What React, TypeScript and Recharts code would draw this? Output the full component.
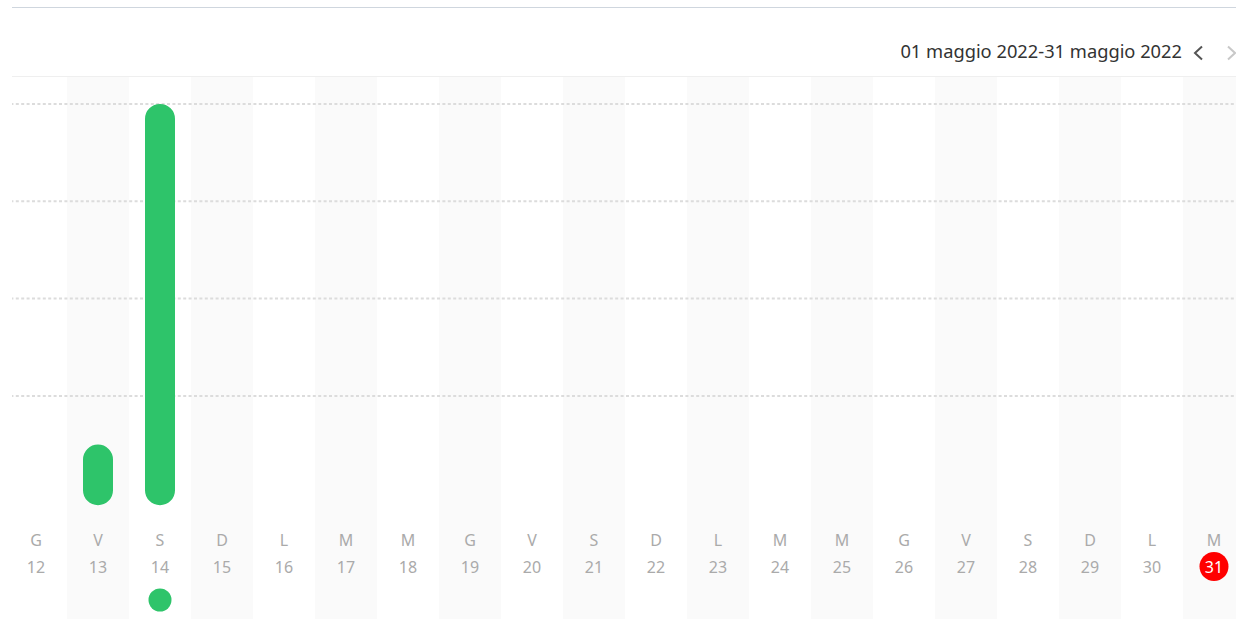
// Attività giornaliera di maggio 2022: barre a capsula per giorno, colonne alternate.
import { Bar, BarChart, ReferenceArea, ReferenceLine, Rectangle, XAxis, YAxis } from "recharts";

const DAYS = [12, 13, 14, 15, 16, 17, 18, 19, 20, 21, 22, 23, 24, 25, 26, 27, 28, 29, 30, 31];
const WEEKDAYS = ["G", "V", "S", "D", "L", "M", "M", "G", "V", "S", "D", "L", "M", "M", "G", "V", "S", "D", "L", "M"];
const VALUES = [0, 0.5, 4, 0, 0, 0, 0, 0, 0, 0, 0, 0, 0, 0, 0, 0, 0, 0, 0, 0];
const GRID_VALUES = [1, 2, 3, 4];
const Y_DOMAIN: [number, number] = [-1.292, 4.277];
const SHADED_DAYS = DAYS.filter((d) => d % 2 === 1);
const SELECTED_DAY = 14;
const TODAY = 31;
const RANGE_LABEL = "01 maggio 2022-31 maggio 2022";

const GREEN = "#2ec46a";
const FONT = '"Noto Sans", "Open Sans", sans-serif';

const data = DAYS.map((day, i) => ({ day, weekday: WEEKDAYS[i], value: VALUES[i] }));

function CapsuleBar(props: any) {
  const { x, y, width, height } = props;
  if (!height || height <= 0) return null;
  return <Rectangle x={x} y={y} width={width} height={height + 12} radius={width / 2} fill={GREEN} />;
}

function DayTick(props: any) {
  const { x, y, payload, index } = props;
  const day = payload.value;
  const isToday = day === TODAY;
  // y è il bordo inferiore dell'area del grafico
  const base = y + 1;
  return (
    <g fontFamily={FONT} fontSize={16} textAnchor="middle">
      <text x={x} y={base - 74} fill="#aaaaaa">
        {WEEKDAYS[index]}
      </text>
      {isToday && <circle cx={x} cy={base - 53.5} r={14.5} fill="#ff0000" />}
      <text x={x} y={base - 47} fill={isToday ? "#ffffff" : "#aaaaaa"}>
        {day}
      </text>
      {day === SELECTED_DAY && <circle cx={x} cy={base - 20} r={11.5} fill={GREEN} />}
    </g>
  );
}

export default function App() {
  return (
    <div style={{ position: "fixed", left: 0, top: 0, width: 1236, height: 620, overflow: "hidden", background: "#fff" }}>
      <div style={{ position: "absolute", left: 0, top: 0 }}>
        <BarChart width={1250} height={620} data={data} margin={{ top: 77, right: 5, bottom: 0, left: 5 }} barCategoryGap={0}>
          <XAxis
            dataKey="day"
            height={1}
            axisLine={false}
            tickLine={false}
            tickSize={0}
            tickMargin={0}
            interval={0}
            tick={<DayTick />}
          />
          <YAxis hide domain={Y_DOMAIN} allowDataOverflow ticks={GRID_VALUES} />
          {SHADED_DAYS.map((d) => (
            <ReferenceArea key={d} x1={d} x2={d} fill="#fafafa" fillOpacity={1} stroke="none" zIndex={-60} />
          ))}
          {GRID_VALUES.map((v) => (
            <ReferenceLine key={v} y={v} stroke="#dcdcdc" strokeWidth={2} strokeDasharray="3 2.4" zIndex={-40} />
          ))}
          <Bar dataKey="value" barSize={30} shape={<CapsuleBar />} isAnimationActive={false} />
        </BarChart>
      </div>
      {/* la griglia tratteggiata inizia a x=12 come le linee orizzontali */}
      <div style={{ position: "absolute", left: 0, top: 90, width: 12, height: 320, background: "#fff" }} />
      <div style={{ position: "absolute", left: 12, right: 0, top: 7, height: 1, background: "#cfd6de" }} />
      <div style={{ position: "absolute", left: 12, right: 0, top: 76, height: 1, background: "#efefef" }} />
      <div
        style={{
          position: "absolute",
          right: 54,
          top: 38,
          fontFamily: FONT,
          fontSize: 18.3,
          color: "#333",
          lineHeight: "26px",
          whiteSpace: "nowrap",
        }}
      >
        {RANGE_LABEL}
      </div>
      <svg style={{ position: "absolute", left: 1190, top: 45 }} width={46} height={16}>
        <polyline points="12,1.5 5,8 12,14.5" fill="none" stroke="#555" strokeWidth={2} />
        <polyline points="38,1.5 45,8 38,14.5" fill="none" stroke="#c8c8c8" strokeWidth={2} />
      </svg>
    </div>
  );
}
